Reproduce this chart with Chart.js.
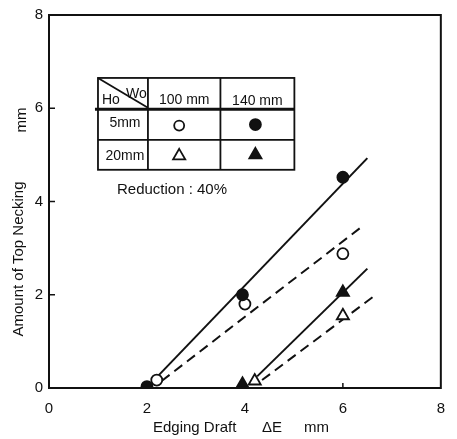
<!DOCTYPE html>
<html>
<head>
<meta charset="utf-8">
<script src="https://cdn.jsdelivr.net/npm/chart.js@4.4.0/dist/chart.umd.min.js"></script>
<style>
  html, body { margin: 0; padding: 0; background: #fff; }
  #wrap { width: 457px; height: 439px; }
</style>
</head>
<body>
<div id="wrap"><canvas id="myChart" width="457" height="439"></canvas></div>
<script>
// measured points (Edging Draft dE mm, Amount of Top Necking mm)
const filledCircleX = [2.0, 3.95, 6.0];
const filledCircleY = [0.03, 2.0, 4.52];
const openCircleX = [2.2, 4.0, 6.0];
const openCircleY = [0.17, 1.8, 2.88];
const filledTriX = [3.95, 6.0];
const filledTriY = [0.08, 2.05];
const openTriX = [4.2, 6.0];
const openTriY = [0.15, 1.55];

// fitted lines (end points)
const solid1X = [2.1, 6.5];
const solid1Y = [0.12, 4.93];
const dash1X = [2.3, 6.4];
const dash1Y = [0.15, 3.47];
const solid2X = [4.25, 6.5];
const solid2Y = [0.25, 2.56];
const dash2X = [4.35, 6.7];
const dash2Y = [0.17, 2.02];

const xTicks = [0, 2, 4, 6, 8];
const yTicks = [0, 2, 4, 6, 8];

const colHeads = ["100 mm", "140 mm"];
const rowHeads = ["5mm", "20mm"];

const FONT = '"Liberation Sans", Arial, sans-serif';
const INK = '#111';

function pts(xs, ys) {
    return xs.map((x, i) => ({ x: x, y: ys[i] }));
}

function pointSet(xs, ys, style, filled, r) {
    return {
        data: pts(xs, ys),
        showLine: false,
        pointStyle: style,
        pointRadius: r,
        pointBorderWidth: 1.8,
        pointBorderColor: INK,
        pointBackgroundColor: filled ? INK : '#fff'
    };
}

function lineSet(xs, ys, dashed) {
    return {
        data: pts(xs, ys),
        showLine: true,
        borderColor: INK,
        borderWidth: 2,
        borderDash: dashed ? [10, 6] : [],
        pointRadius: 0
    };
}

// frame, inward ticks, legend table and axis titles
const decorPlugin = {
    id: 'decor',
    afterDraw(chart) {
        const ctx = chart.ctx;
        const a = chart.chartArea;
        const xs = chart.scales.x, ys = chart.scales.y;
        const px = v => xs.getPixelForValue(v);
        const py = v => ys.getPixelForValue(v);

        ctx.save();
        ctx.strokeStyle = INK;
        ctx.fillStyle = INK;
        ctx.lineWidth = 2;
        ctx.strokeRect(a.left, a.top, a.right - a.left, a.bottom - a.top);

        // inward ticks
        ctx.lineWidth = 1.5;
        xTicks.slice(1, -1).forEach(v => {
            ctx.beginPath();
            ctx.moveTo(px(v), a.bottom);
            ctx.lineTo(px(v), a.bottom - 5);
            ctx.stroke();
        });
        yTicks.slice(1, -1).forEach(v => {
            ctx.beginPath();
            ctx.moveTo(a.left, py(v));
            ctx.lineTo(a.left + 6, py(v));
            ctx.stroke();
        });

        // legend table
        const L = px(1.0), R = px(5.01), C1 = px(2.02), C2 = px(3.5);
        const T = py(6.65), H = py(5.98), M = py(5.32), B = py(4.68);
        ctx.lineWidth = 1.8;
        ctx.strokeRect(L, T, R - L, B - T);
        ctx.beginPath();
        ctx.moveTo(C1, T); ctx.lineTo(C1, B);
        ctx.moveTo(C2, T); ctx.lineTo(C2, B);
        ctx.moveTo(L, M); ctx.lineTo(R, M);
        ctx.moveTo(L, T); ctx.lineTo(C1, H - 1.5);
        ctx.stroke();
        ctx.lineWidth = 3;
        ctx.beginPath();
        ctx.moveTo(L - 3, H); ctx.lineTo(R, H);
        ctx.stroke();

        ctx.font = '14px ' + FONT;
        ctx.textBaseline = 'middle';
        ctx.textAlign = 'left';
        ctx.fillText('Ho', L + 4, T + 22);
        ctx.fillText('Wo', L + 28, T + 16);
        ctx.textAlign = 'center';
        ctx.fillText(colHeads[0], (C1 + C2) / 2, T + 22);
        ctx.fillText(colHeads[1], (C2 + R) / 2, T + 23);
        ctx.fillText(rowHeads[0], (L + C1) / 2 + 2, (H + M) / 2 - 1);
        ctx.fillText(rowHeads[1], (L + C1) / 2 + 2, (M + B) / 2 + 1);

        const mk = (style, filled, r, x, y) => {
            ctx.fillStyle = filled ? INK : '#fff';
            ctx.lineWidth = 1.8;
            Chart.helpers.drawPoint(ctx, { pointStyle: style, radius: r, rotation: 0, borderWidth: 1.8 }, x, y);
        };
        mk('circle', false, 5, (C1 + C2) / 2 - 5, (H + M) / 2 + 1);
        mk('circle', true, 5.5, (C2 + R) / 2 - 2, (H + M) / 2);
        mk('triangle', false, 7, (C1 + C2) / 2 - 5, (M + B) / 2 + 1);
        mk('triangle', true, 7, (C2 + R) / 2 - 2, (M + B) / 2);

        ctx.fillStyle = INK;
        ctx.font = '15px ' + FONT;
        ctx.textAlign = 'left';
        ctx.fillText('Reduction : 40%', L + 19, py(4.25));

        // axis titles
        ctx.fillText('Edging Draft', 153, 428);
        ctx.fillText('\u0394E', 262, 428);
        ctx.fillText('mm', 304, 428);

        ctx.save();
        ctx.translate(19, 259);
        ctx.rotate(-Math.PI / 2);
        ctx.textAlign = 'center';
        ctx.fillText('Amount of Top Necking', 0, 0);
        ctx.restore();
        ctx.save();
        ctx.translate(22, 120);
        ctx.rotate(-Math.PI / 2);
        ctx.textAlign = 'center';
        ctx.fillText('mm', 0, 0);
        ctx.restore();

        ctx.restore();
    }
};

const ctx = document.getElementById('myChart').getContext('2d');
const myChart = new Chart(ctx, {
    type: 'scatter',
    data: {
        datasets: [
            pointSet(filledCircleX, filledCircleY, 'circle', true, 5.5),
            pointSet(openCircleX, openCircleY, 'circle', false, 5.5),
            pointSet(filledTriX, filledTriY, 'triangle', true, 7),
            pointSet(openTriX, openTriY, 'triangle', false, 7),
            lineSet(solid1X, solid1Y, false),
            lineSet(dash1X, dash1Y, true),
            lineSet(solid2X, solid2Y, false),
            lineSet(dash2X, dash2Y, true)
        ]
    },
    options: {
        responsive: false,
        animation: false,
        layout: { padding: { top: 9, right: 15, left: 0, bottom: 0 } },
        plugins: { legend: { display: false }, tooltip: { enabled: false } },
        scales: {
            x: {
                type: 'linear', min: 0, max: 8,
                afterBuildTicks: s => { s.ticks = xTicks.map(v => ({ value: v })); },
                afterFit: s => { s.height = 51; },
                grid: { display: false, drawTicks: false },
                border: { display: false },
                ticks: { color: INK, padding: 12, font: { size: 15, family: FONT } }
            },
            y: {
                type: 'linear', min: 0, max: 8,
                afterBuildTicks: s => { s.ticks = yTicks.map(v => ({ value: v })); },
                afterFit: s => { s.width = 49; },
                grid: { display: false, drawTicks: false },
                border: { display: false },
                ticks: { color: INK, padding: 6, font: { size: 15, family: FONT } }
            }
        }
    },
    plugins: [decorPlugin]
});
</script>
</body>
</html>
